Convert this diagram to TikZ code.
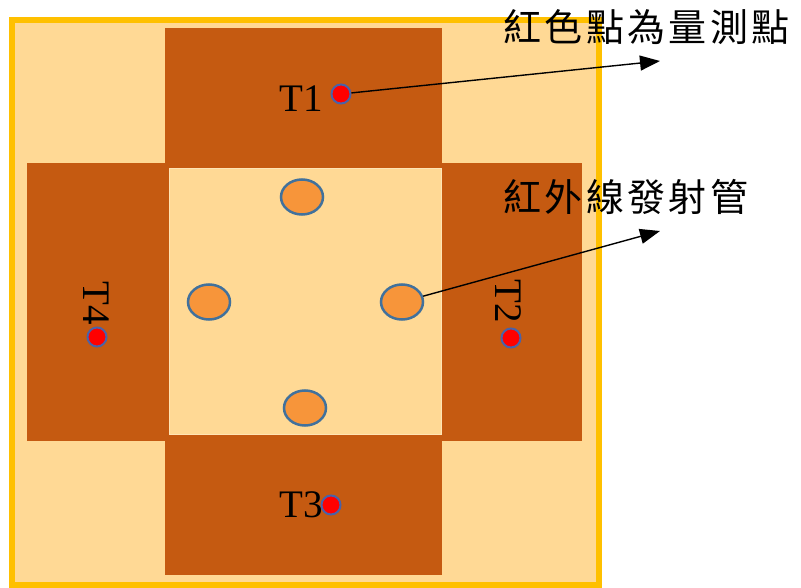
\documentclass[tikz,border=0pt]{standalone}
\usepackage{fontspec}
\setmainfont{Liberation Serif}
\newfontfamily\cjk[LetterSpace=9]{Noto Sans CJK TC}
\usetikzlibrary{shapes.geometric,arrows.meta}
\definecolor{frameline}{HTML}{FFC000}
\definecolor{lightfill}{HTML}{FFD995}
\definecolor{armfill}{HTML}{C55A11}
\definecolor{tubefill}{HTML}{F7953A}
\definecolor{tubeline}{HTML}{41719C}
\definecolor{dotline}{HTML}{4A62A8}
\tikzset{
  arm/.style={fill=armfill, draw=none},
  tube/.style={ellipse, fill=tubefill, draw=tubeline, line width=2.5pt, minimum width=42pt, minimum height=35pt, inner sep=0pt},
  reddot/.style={circle, fill=red, draw=dotline, line width=2pt, minimum size=19pt, inner sep=0pt},
  tlabel/.style={font=\fontsize{39}{41}\selectfont, inner sep=0pt},
  cjklabel/.style={font=\cjk\fontsize{38}{40}\selectfont, inner sep=0pt},
  pointer/.style={line width=1.4pt, -{Triangle[length=20pt,width=15pt]}}
}
\begin{document}
\begin{tikzpicture}[x=1pt,y=-1pt]
\useasboundingbox (0,0) rectangle (801,588);
% outer frame
\draw[line width=6pt, draw=frameline, fill=lightfill] (12,20) rectangle (599,585);
% arms
\fill[arm] (165,28) rectangle (442,169);
\fill[arm] (165,434) rectangle (442,575);
\fill[arm] (27,163) rectangle (169,441);
\fill[arm] (441,163) rectangle (582,441);
% centre square
\draw[fill=lightfill, draw=lightfill!70!white, line width=1pt] (169,169) rectangle (441,434);
% tubes
\node[tube] (tubeT) at (302,197) {};
\node[tube] (tubeL) at (209,302) {};
\node[tube] (tubeR) at (402,302) {};
\node[tube] (tubeB) at (305,408) {};
% labels T1..T4
\node[tlabel] (t1) at (301,99) {T1};
\node[tlabel] (t3) at (301,505) {T3};
\node[tlabel, rotate=-90] (t4) at (96,303) {T4};
\node[tlabel, rotate=-90] (t2) at (508,301) {T2};
% red measuring dots
\node[reddot] (d1) at (341,94) {};
\node[reddot] (d3) at (331,505) {};
\node[reddot] (d4) at (97,337) {};
\node[reddot] (d2) at (511,338) {};
% annotation texts
\node[cjklabel, anchor=west] (lab1) at (503,27) {紅色點為量測點};
\node[cjklabel, anchor=west] (lab2) at (503,197) {紅外線發射管};
\coordinate (tip1) at (660,61);
\coordinate (tip2) at (660,231);
\draw[pointer] (d1) -- (tip1);
\draw[pointer] (tubeR) -- (tip2);
\end{tikzpicture}
\end{document}
